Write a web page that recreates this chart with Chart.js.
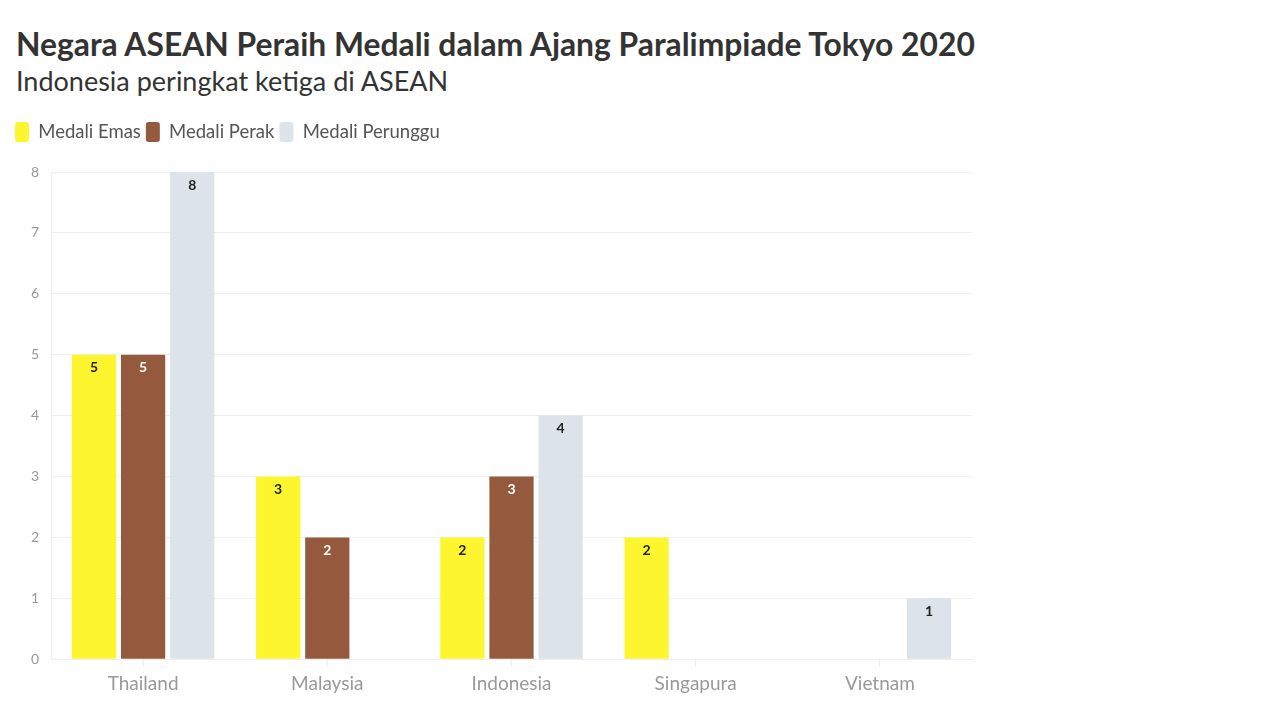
<!DOCTYPE html>
<html>
<head>
<meta charset="utf-8">
<script src="https://cdn.jsdelivr.net/npm/chart.js@4/dist/chart.umd.min.js"></script>
<style>
  body { margin: 0; background: #fff; font-family: Lato, sans-serif; }
  .title { position: absolute; left: 16px; top: 25px; margin: 0; font-size: 31.8px; font-weight: 700; color: #333; white-space: nowrap; }
  .subtitle { position: absolute; left: 16px; top: 64px; margin: 0; font-size: 27px; font-weight: 400; color: #333; white-space: nowrap; }
  .wrap { position: absolute; left: 0; top: 117px; width: 990px; height: 603px; }
</style>
</head>
<body>
<h1 class="title">Negara ASEAN Peraih Medali dalam Ajang Paralimpiade Tokyo 2020</h1>
<h2 class="subtitle">Indonesia peringkat ketiga di ASEAN</h2>
<div class="wrap"><canvas id="medalChart"></canvas></div>
<script>
const countries = ['Thailand', 'Malaysia', 'Indonesia', 'Singapura', 'Vietnam'];
const gold = [5, 3, 2, 2, null];
const silver = [5, 2, 3, null, null];
const bronze = [8, null, 4, null, 1];
const yTicks = [0, 1, 2, 3, 4, 5, 6, 7, 8];

const labelColors = ['#222', '#fff', '#222'];

// draw the value inside the top of each bar
const barLabels = {
    id: 'barLabels',
    afterDatasetsDraw(chart) {
        const ctx = chart.ctx;
        ctx.save();
        ctx.font = 'bold 14px Lato, sans-serif';
        ctx.textAlign = 'center';
        ctx.textBaseline = 'middle';
        chart.data.datasets.forEach((ds, i) => {
            chart.getDatasetMeta(i).data.forEach((bar, j) => {
                const v = ds.data[j];
                if (v == null) return;
                ctx.fillStyle = labelColors[i];
                ctx.fillText(v, bar.x, bar.y + 13);
            });
        });
        ctx.restore();
    }
};

// extra space between legend and plot
const legendGap = {
    id: 'legendGap',
    beforeInit(chart) {
        const fit = chart.legend.fit;
        chart.legend.fit = function () {
            fit.call(this);
            this.height += 20;
        };
    }
};

const ctx = document.getElementById('medalChart').getContext('2d');
new Chart(ctx, {
    type: 'bar',
    data: {
        labels: countries,
        datasets: [
            { label: 'Medali Emas', data: gold, backgroundColor: '#fdf52d' },
            { label: 'Medali Perak', data: silver, backgroundColor: '#955a3e' },
            { label: 'Medali Perunggu', data: bronze, backgroundColor: '#dce3ea' }
        ]
    },
    options: {
        responsive: true,
        maintainAspectRatio: false,
        animation: false,
        layout: { padding: { left: 10, right: 18, bottom: 20, top: 0 } },
        plugins: {
            legend: {
                align: 'start',
                labels: {
                    boxWidth: 14,
                    boxHeight: 20,
                    padding: 5,
                    useBorderRadius: true,
                    borderRadius: 3,
                    color: '#555',
                    font: { family: 'Lato', size: 18.5 }
                }
            },
            tooltip: { enabled: false }
        },
        scales: {
            x: {
                grid: { display: true, drawOnChartArea: false, offset: false, tickLength: 8, color: '#eee' },
                border: { color: '#eee' },
                ticks: { color: '#999', font: { family: 'Lato', size: 19 }, padding: 5 }
            },
            y: {
                min: 0,
                max: 8,
                afterBuildTicks: scale => { scale.ticks = yTicks.map(v => ({ value: v })); },
                afterFit: scale => { scale.width = 41; },
                grid: { color: '#eee', drawTicks: false },
                border: { display: true, color: '#eee' },
                ticks: { color: '#999', font: { family: 'Lato', size: 14 }, padding: 12 }
            }
        }
    },
    plugins: [barLabels, legendGap]
});
</script>
</body>
</html>
